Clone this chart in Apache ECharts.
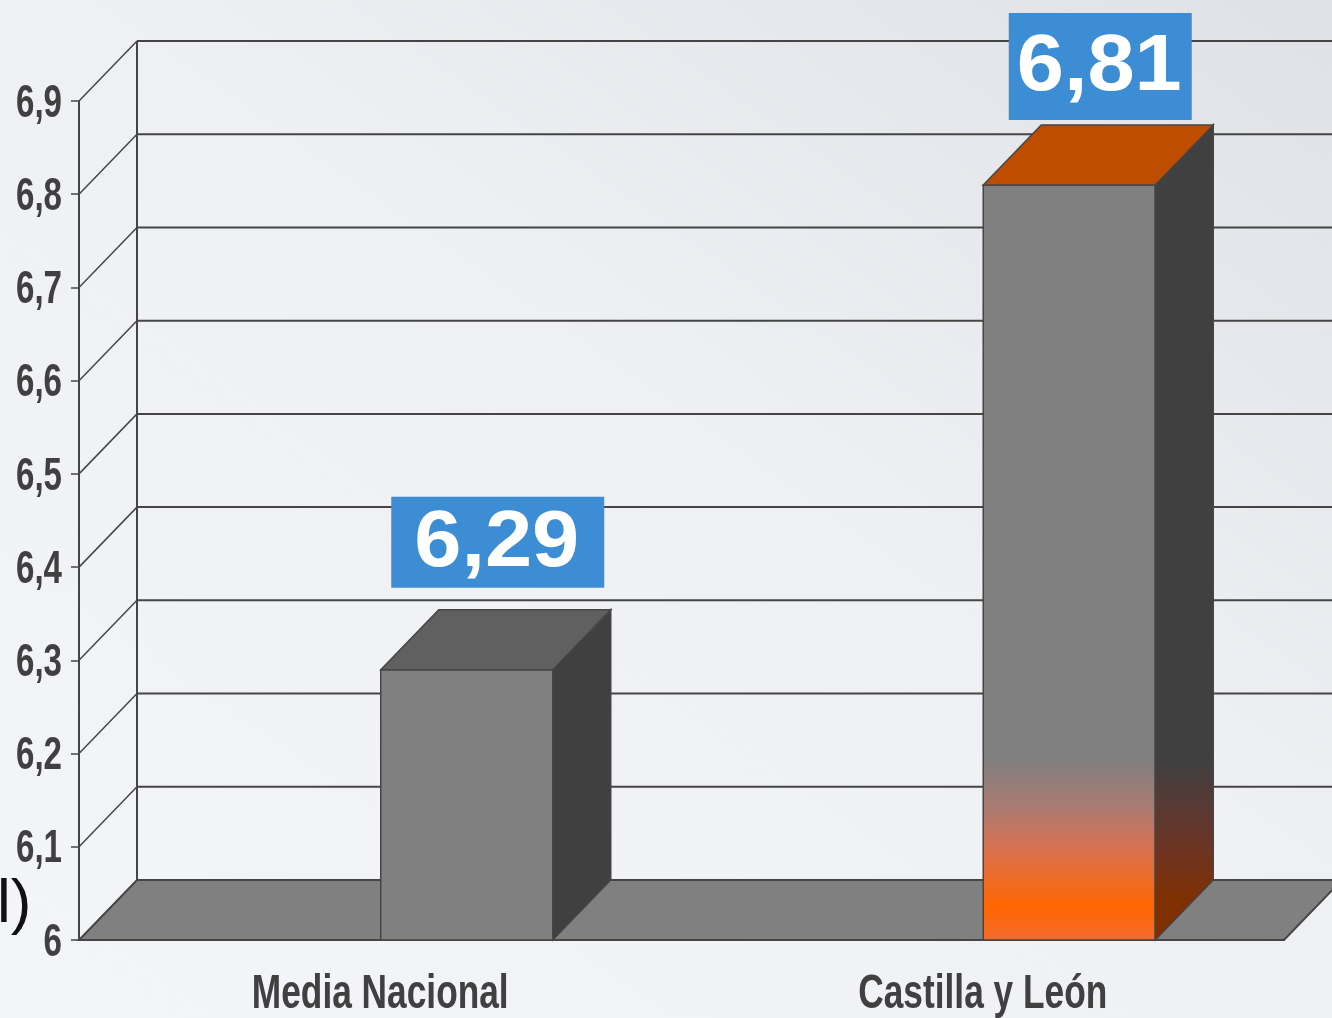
<!DOCTYPE html>
<html>
<head>
<meta charset="utf-8">
<script src="https://cdn.jsdelivr.net/npm/echarts@6/dist/echarts.min.js"></script>
<style>
  html, body { margin: 0; padding: 0; }
  #chart {
    width: 1332px;
    height: 1018px;
    background: linear-gradient(35deg, #f4f5f9 0%, #eef0f4 55%, #dfe1e6 100%);
  }
</style>
</head>
<body>
<div id="chart"></div>
<script>
// datos
const categories = ['Media Nacional', 'Castilla y León']
const values = [6.29, 6.81]
const yTicks = [6, 6.1, 6.2, 6.3, 6.4, 6.5, 6.6, 6.7, 6.8, 6.9]

// profundidad 3D
const DX = 58
const DY = -60
const LINE = '#454545'
const TXT = '#404040'
const NARROW = 0.72 // simula Arial Narrow

const barStyles = [
  { front: '#808080', side: '#404040', top: '#606060', box: { w: 213, h: 91, gap: 22 } },
  {
    front: new echarts.graphic.LinearGradient(0, 0, 0, 1, [
      { offset: 0, color: '#808080' },
      { offset: 0.76, color: '#808080' },
      { offset: 0.825, color: '#ab7a70' },
      { offset: 0.88, color: '#d9714f' },
      { offset: 0.955, color: '#ff6600' },
      { offset: 1, color: '#f36b2f' }
    ]),
    side: new echarts.graphic.LinearGradient(0, 0, 0, 1, [
      { offset: 0, color: '#404040' },
      { offset: 0.78, color: '#404040' },
      { offset: 0.83, color: '#553a36' },
      { offset: 0.89, color: '#6e3422' },
      { offset: 0.95, color: '#7f3000' },
      { offset: 1, color: '#7f3000' }
    ]),
    top: '#bf4d00',
    box: { w: 183, h: 107, gap: 5 }
  }
]

const fmt1 = v => String(+(+v).toFixed(1)).replace('.', ',')
const fmt2 = v => (+v).toFixed(2).replace('.', ',')

const chart = echarts.init(document.getElementById('chart'))

function renderWalls (params, api) {
  const cs = params.coordSys
  const v = api.value(1)
  const y = api.coord([0, v])[1]
  const children = []
  if (params.dataIndex === 0) {
    children.push({
      type: 'line',
      shape: { x1: cs.x + DX, y1: cs.y + DY, x2: cs.x + DX, y2: cs.y + cs.height + DY },
      style: { stroke: LINE, lineWidth: 2 }
    })
  }
  if (v > yTicks[0]) {
    children.push({
      type: 'line',
      shape: { x1: cs.x, y1: y, x2: cs.x + DX, y2: y + DY },
      style: { stroke: LINE, lineWidth: 1.5 }
    }, {
      type: 'line',
      shape: { x1: cs.x + DX, y1: y + DY, x2: cs.x + cs.width + DX + 10, y2: y + DY },
      style: { stroke: LINE, lineWidth: 2 }
    })
  }
  // etiqueta del eje Y
  children.push({
    type: 'text',
    x: cs.x - 17,
    y: y + 3,
    scaleX: NARROW,
    style: {
      x: 0, y: 0,
      text: fmt1(v),
      fill: TXT,
      font: 'bold 46px "Liberation Sans", Arial, sans-serif',
      align: 'right',
      verticalAlign: 'middle'
    }
  })
  return { type: 'group', children: children }
}

function renderFloor (params, api) {
  const cs = params.coordSys
  const yb = cs.y + cs.height
  const children = [{
    type: 'polygon',
    shape: {
      points: [
        [cs.x, yb], [cs.x + cs.width, yb],
        [cs.x + cs.width + DX, yb + DY], [cs.x + DX, yb + DY]
      ]
    },
    style: { fill: '#808080', stroke: LINE, lineWidth: 2 }
  }]
  // etiquetas de categoría
  categories.forEach(function (c, i) {
    children.push({
      type: 'text',
      x: api.coord([i, yTicks[0]])[0],
      y: yb + 54,
      scaleX: NARROW,
      style: {
        x: 0, y: 0,
        text: c,
        fill: TXT,
        font: 'bold 49px "Liberation Sans", Arial, sans-serif',
        align: 'center',
        verticalAlign: 'middle'
      }
    })
  })
  return { type: 'group', children: children }
}

function renderBar (params, api) {
  const i = api.value(0)
  const v = api.value(1)
  const st = barStyles[i]
  const top = api.coord([i, v])
  const base = api.coord([i, yTicks[0]])
  const bw = api.size([1, 0])[0]
  const w = Math.round(bw * 0.2855)
  const x0 = top[0] + 0.5
  const yT = top[1]
  const yB = base[1]
  const bx = x0 + (w + DX) / 2 + 2
  const by = yT + DY - st.box.gap - st.box.h / 2
  return {
    type: 'group',
    children: [
      {
        type: 'rect',
        shape: { x: x0, y: yT, width: w, height: yB - yT },
        style: { fill: st.front, stroke: LINE, lineWidth: 1.5 }
      },
      {
        type: 'polygon',
        shape: { points: [[x0 + w, yT], [x0 + w + DX, yT + DY], [x0 + w + DX, yB + DY], [x0 + w, yB]] },
        style: { fill: st.side, stroke: LINE, lineWidth: 1.5 }
      },
      {
        type: 'polygon',
        shape: { points: [[x0, yT], [x0 + DX, yT + DY], [x0 + w + DX, yT + DY], [x0 + w, yT]] },
        style: { fill: st.top, stroke: LINE, lineWidth: 1.5 }
      },
      {
        type: 'rect',
        shape: { x: bx - st.box.w / 2, y: by - st.box.h / 2, width: st.box.w, height: st.box.h },
        style: { fill: '#3d8dd4' }
      },
      {
        type: 'text',
        x: bx - 1,
        y: by + 2,
        scaleX: 1.06,
        style: {
          x: 0,
          y: 0,
          text: fmt2(v),
          fill: '#ffffff',
          font: 'bold 80px "Liberation Sans", Arial, sans-serif',
          align: 'center',
          verticalAlign: 'middle'
        }
      }
    ]
  }
}

const option = {
  animation: false,
  grid: { left: 79, right: 48, top: 101, bottom: 78, outerBoundsMode: 'none', containLabel: false },
  xAxis: {
    type: 'category',
    data: categories,
    axisLine: { lineStyle: { color: LINE, width: 2 } },
    axisTick: { length: 12, lineStyle: { color: LINE, width: 1.5 } },
    axisLabel: { show: false }
  },
  yAxis: {
    type: 'value',
    min: 6,
    max: 6.9,
    interval: 0.1,
    splitLine: { show: false },
    axisLine: { show: true, lineStyle: { color: LINE, width: 2 } },
    axisTick: { show: true, length: 8, lineStyle: { color: LINE, width: 1.5 } },
    axisLabel: { show: false }
  },
  graphic: [{
    type: 'text',
    style: {
      x: -3,
      y: 905,
      text: 'l)',
      fill: '#111111',
      font: '62px "Liberation Sans", Arial, sans-serif',
      textVerticalAlign: 'middle',
      verticalAlign: 'middle'
    }
  }],
  series: [
    {
      type: 'custom',
      renderItem: renderWalls,
      encode: { x: 0, y: 1 },
      clip: false,
      z: 1,
      data: yTicks.map(t => [0, t])
    },
    {
      type: 'custom',
      renderItem: renderFloor,
      encode: { x: 0, y: 1 },
      clip: false,
      z: 2,
      data: [[0, yTicks[0]]]
    },
    {
      type: 'custom',
      renderItem: renderBar,
      encode: { x: 0, y: 1 },
      clip: false,
      z: 3,
      data: values.map((v, i) => [i, v])
    }
  ]
}

chart.setOption(option)
</script>
</body>
</html>
